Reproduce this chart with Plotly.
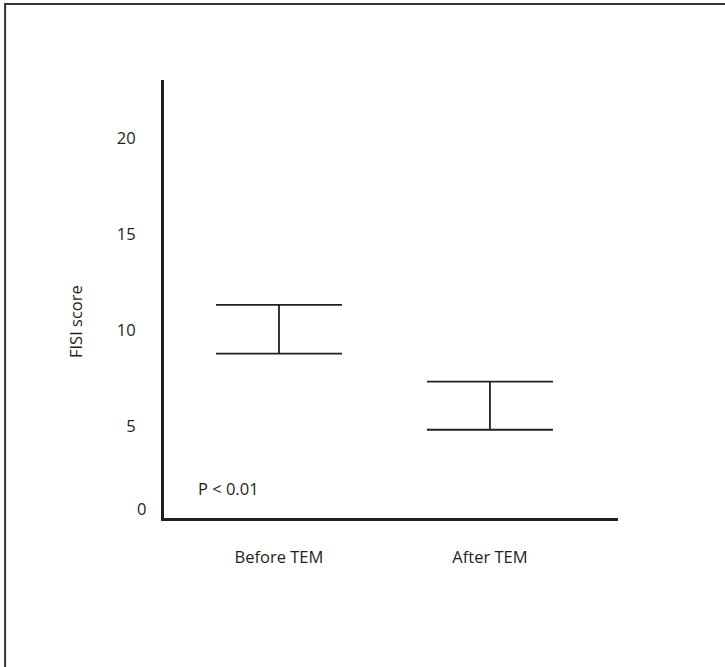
import plotly.graph_objects as go

categories = ["Before TEM", "After TEM"]
upper = [11.34, 7.34]
lower = [8.80, 4.83]
ytick_vals = [5, 10, 15, 20]
ytick_text = ["5", "10", "15", "20"]

mid = [(u + l) / 2 for u, l in zip(upper, lower)]
err_plus = [u - m for u, m in zip(upper, mid)]
err_minus = [m - l for m, l in zip(mid, lower)]

INK = "#231f20"
FONT = "Open Sans, Liberation Sans, sans-serif"
FS = 16.5

fig = go.Figure()
fig.add_trace(go.Scatter(
    x=[0, 1], y=mid, mode="markers",
    marker=dict(size=1, color="rgba(0,0,0,0)"),
    error_y=dict(type="data", symmetric=False, array=err_plus, arrayminus=err_minus,
                 color=INK, thickness=1.8, width=63),
    showlegend=False, hoverinfo="skip",
))

fig.update_layout(
    width=725, height=667,
    margin=dict(l=164, r=107, t=80, b=149),
    paper_bgcolor="white", plot_bgcolor="white",
    font=dict(family=FONT, size=FS, color=INK),
    xaxis=dict(
        range=[-0.545, 1.607], tickvals=[0, 1], ticktext=categories,
        showgrid=False, zeroline=False, showline=True, linecolor=INK, linewidth=3,
        ticks="", ticklabelstandoff=22, tickfont=dict(size=FS, color=INK),
    ),
    yaxis=dict(
        range=[0.23, 23.06], tickvals=ytick_vals, ticktext=ytick_text,
        showgrid=False, zeroline=False, showline=True, linecolor=INK, linewidth=3,
        ticks="", ticklabelstandoff=22, tickfont=dict(size=FS, color=INK),
    ),
    shapes=[dict(type="rect", xref="paper", yref="paper",
                 x0=-0.350, x1=1.4, y0=-0.5, y1=1.1735,
                 line=dict(color="#333333", width=2), fillcolor="rgba(0,0,0,0)", layer="below")],
    annotations=[
        dict(text="0", xref="paper", yref="y", x=(148 - 164) / 454, y=0.7,
             xanchor="right", yanchor="middle", showarrow=False, font=dict(size=FS, color=INK)),
        dict(text="FISI score", xref="paper", yref="paper", x=(75 - 164) / 454, y=(518 - 322) / 438,
             xanchor="center", yanchor="middle", textangle=-90, showarrow=False,
             font=dict(size=FS, color=INK)),
        dict(text="P < 0.01", xref="paper", yref="y", x=(196 - 164) / 454, y=1.755,
             xanchor="left", yanchor="middle", showarrow=False, font=dict(size=FS, color=INK)),
    ],
)

fig.write_html("out.html", config={"displayModeBar": False},
               post_script="document.body.style.margin='0';")
